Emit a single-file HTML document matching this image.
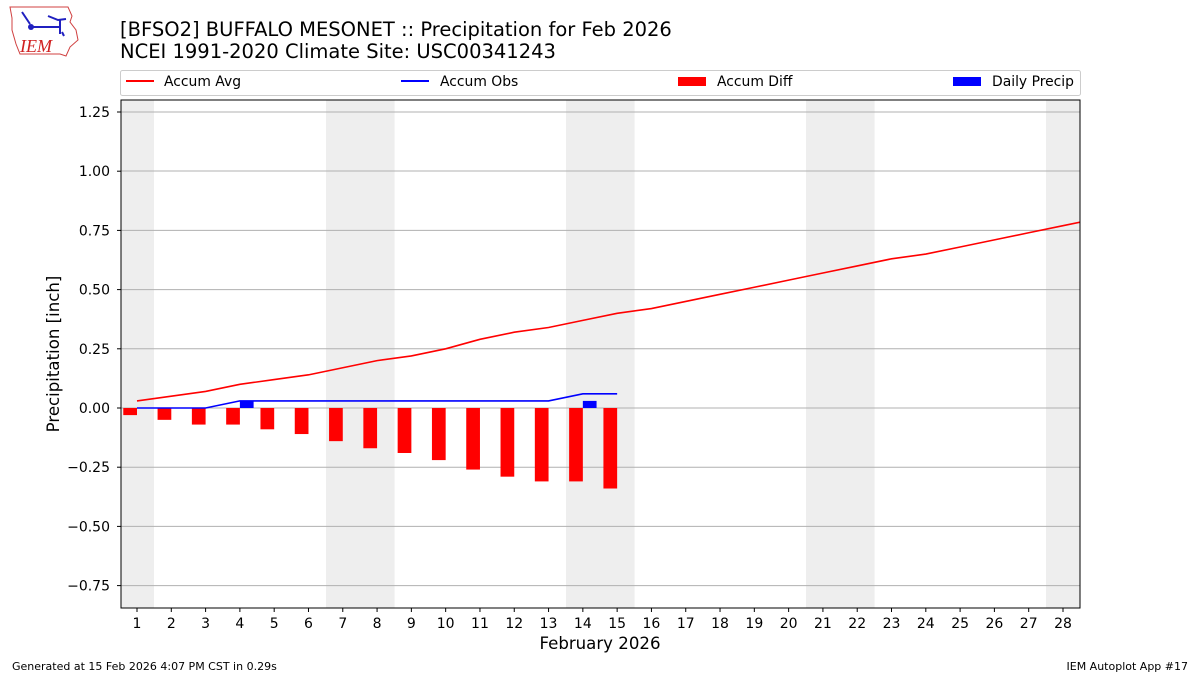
<!DOCTYPE html>
<html><head><meta charset="utf-8"><style>
body{margin:0;background:#fff;width:1200px;height:675px;overflow:hidden;font-family:"DejaVu Sans","Liberation Sans",sans-serif}
</style></head><body>
<svg width="1200" height="675" xmlns="http://www.w3.org/2000/svg" font-family="DejaVu Sans, Liberation Sans, sans-serif">
<path d="M10,7 L68,7 L72,16 L70,22 L76,30 L78,40 L70,47 L66,56 L60,54 L20,54 L16,44 L12,30 L12,18 Z" fill="none" stroke="#d04040" stroke-width="1"/>
<path d="M22,12 L30,24 M30,27 L60,27 M48,16 L58,20 L66,19 M60,20 L60,34 M62,32 L64,36" stroke="#2020c0" stroke-width="2" fill="none"/>
<circle cx="31" cy="27" r="3" fill="#2020c0"/>
<text x="20" y="52" font-family="Liberation Serif, serif" font-style="italic" font-size="18" fill="#d02020">IEM</text>
<text x="120" y="36" font-size="19.5" fill="#000">[BFSO2] BUFFALO MESONET :: Precipitation for Feb 2026</text>
<text x="120" y="58" font-size="19.5" fill="#000">NCEI 1991-2020 Climate Site: USC00341243</text>
<rect x="120.5" y="70.5" width="960" height="25" rx="2" fill="#fff" stroke="#ccc"/>
<line x1="126" y1="81" x2="154" y2="81" stroke="red" stroke-width="2"/>
<text x="164" y="86" font-size="13.9">Accum Avg</text>
<line x1="401" y1="81" x2="429" y2="81" stroke="blue" stroke-width="2"/>
<text x="440" y="86" font-size="13.9">Accum Obs</text>
<rect x="678" y="77" width="28" height="9" fill="red"/>
<text x="717" y="86" font-size="13.9">Accum Diff</text>
<rect x="953" y="77" width="28" height="9" fill="blue"/>
<text x="992" y="86" font-size="13.9">Daily Precip</text>
<g fill="#eeeeee">
<rect x="121" y="100" width="33" height="508"/>
<rect x="326" y="100" width="68.6" height="508"/>
<rect x="566" y="100" width="68.6" height="508"/>
<rect x="806" y="100" width="68.6" height="508"/>
<rect x="1046" y="100" width="34" height="508"/>
</g>
<g stroke="#b0b0b0" stroke-width="1">
<line x1="121" x2="1080" y1="112" y2="112"/><line x1="121" x2="1080" y1="171" y2="171"/>
<line x1="121" x2="1080" y1="230.4" y2="230.4"/><line x1="121" x2="1080" y1="289.6" y2="289.6"/>
<line x1="121" x2="1080" y1="348.8" y2="348.8"/><line x1="121" x2="1080" y1="408" y2="408"/>
<line x1="121" x2="1080" y1="467.2" y2="467.2"/><line x1="121" x2="1080" y1="526.4" y2="526.4"/>
<line x1="121" x2="1080" y1="585.6" y2="585.6"/>
</g>
<g id="bars"></g>
<rect x="121" y="100" width="959" height="508" fill="none" stroke="#000"/>
<g id="ticks" font-size="14"></g>
<text x="600" y="649" font-size="16.6" text-anchor="middle">February 2026</text>
<text transform="translate(59,354) rotate(-90)" font-size="16.6" text-anchor="middle">Precipitation [inch]</text>
<text x="12" y="670" font-size="11">Generated at 15 Feb 2026 4:07 PM CST in 0.29s</text>
<text x="1188" y="670" font-size="11" text-anchor="end">IEM Autoplot App #17</text>
</svg>
<script>
const X=d=>137+(d-1)*34.296, Y=v=>408-v*236.8, W=0.4*34.296;
const ns="http://www.w3.org/2000/svg";
function el(t,a,p){const e=document.createElementNS(ns,t);for(const k in a)e.setAttribute(k,a[k]);(p||document.querySelector('svg')).appendChild(e);return e;}
const bars=document.getElementById('bars'),ticks=document.getElementById('ticks');
const diff=[-.03,-.05,-.07,-.07,-.09,-.11,-.14,-.17,-.19,-.22,-.26,-.29,-.31,-.31,-.34];
diff.forEach((v,i)=>el('rect',{x:X(i+1)-W,y:408,width:W,height:-v*236.8,fill:'red'},bars));
[[4,.03],[14,.03]].forEach(([d,v])=>el('rect',{x:X(d),y:Y(v),width:W,height:v*236.8,fill:'blue'},bars));
const avg=[.03,.05,.07,.10,.12,.14,.17,.20,.22,.25,.29,.32,.34,.37,.40,.42,.45,.48,.51,.54,.57,.60,.63,.65,.68,.71,.74,.77,.80];
let p=avg.map((v,i)=>X(i+1)+','+Y(v)).join(' ');
el('clipPath',{id:'c'},bars); el('rect',{x:121,y:100,width:959,height:508},document.getElementById('c'));
el('polyline',{points:p,fill:'none',stroke:'red','stroke-width':1.6,'clip-path':'url(#c)'},bars);
const obs=[0,0,0,.03,.03,.03,.03,.03,.03,.03,.03,.03,.03,.06,.06];
el('polyline',{points:obs.map((v,i)=>X(i+1)+','+Y(v)).join(' '),fill:'none',stroke:'blue','stroke-width':1.6},bars);
for(let d=1;d<=28;d++){el('line',{x1:X(d),x2:X(d),y1:608,y2:612,stroke:'#000'},ticks);const t=el('text',{x:X(d),y:628,'text-anchor':'middle'},ticks);t.textContent=d;}
[1.25,1,.75,.5,.25,0,-.25,-.5,-.75].forEach(v=>{el('line',{x1:117,x2:121,y1:Y(v),y2:Y(v),stroke:'#000'},ticks);const t=el('text',{x:110,y:Y(v)+5,'text-anchor':'end'},ticks);t.textContent=v.toFixed(2).replace('-','−');});
</script>
</body></html>
